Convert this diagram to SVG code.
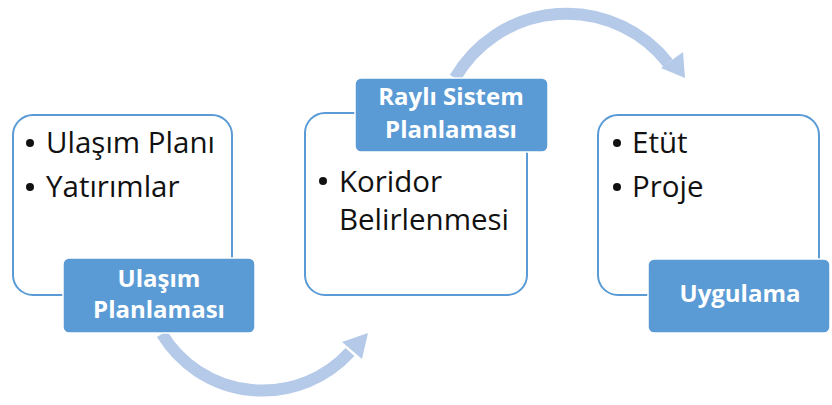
<svg xmlns="http://www.w3.org/2000/svg" width="832" height="405" viewBox="0 0 832 405">
<style>
.box{fill:#fff;stroke:#5B9BD5;stroke-width:2}
.lbl{fill:#5B9BD5;stroke:#fff;stroke-width:1.5}
.txt{font-family:"Open Sans","Noto Sans",sans-serif;font-size:29.5px;fill:#111}
.ltxt{font-family:"Open Sans","Noto Sans",sans-serif;font-size:24px;font-weight:bold;fill:#fff;text-anchor:middle}
.arc{fill:none;stroke:#B4CAE8;stroke-width:12}
.head{fill:#B4CAE8}
.dot{fill:#111}
</style>
<g id="connectors">
<path class="arc" d="M162,334 A118,118 0 0 0 350,352"/>
<polygon class="head" points="368,333 342,342 362,359"/>
<path class="arc" d="M455,78 A129,129 0 0 1 668,63"/>
<polygon class="head" points="685,78 661,68 683,52"/>
</g>
<g id="node1">
<rect class="box" x="13" y="115" width="219" height="180" rx="20"/>
<circle class="dot" cx="30" cy="143" r="4"/>
<circle class="dot" cx="30" cy="187" r="4"/>
<text class="txt" x="46" y="153">Ulaşım Planı</text>
<text class="txt" x="46" y="197">Yatırımlar</text>
</g>
<g id="label1">
<rect class="lbl" x="63" y="258" width="192" height="75" rx="6"/>
<text class="ltxt" x="159" y="287">Ulaşım</text>
<text class="ltxt" x="159" y="318">Planlaması</text>
</g>
<g id="node2">
<rect class="box" x="305" y="113" width="222" height="182" rx="20"/>
<circle class="dot" cx="323" cy="181" r="4"/>
<text class="txt" x="339" y="192">Koridor</text>
<text class="txt" x="339" y="230">Belirlenmesi</text>
</g>
<g id="label2">
<rect class="lbl" x="355" y="78" width="193" height="74" rx="6"/>
<text class="ltxt" x="451" y="105">Raylı Sistem</text>
<text class="ltxt" x="451" y="138">Planlaması</text>
</g>
<g id="node3">
<rect class="box" x="598" y="115" width="221" height="180" rx="20"/>
<circle class="dot" cx="617" cy="143" r="4"/>
<circle class="dot" cx="617" cy="187" r="4"/>
<text class="txt" x="632" y="153">Etüt</text>
<text class="txt" x="632" y="197">Proje</text>
</g>
<g id="label3">
<rect class="lbl" x="648" y="259" width="182" height="74" rx="6"/>
<text class="ltxt" x="740" y="302">Uygulama</text>
</g>
</svg>
